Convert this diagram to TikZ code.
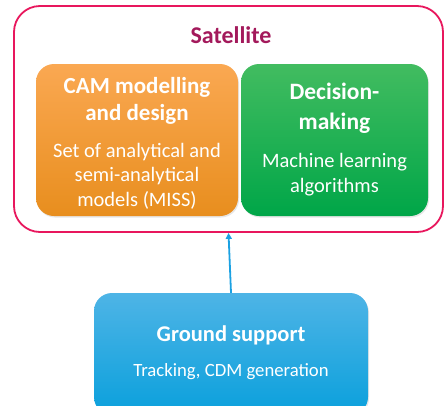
\documentclass[tikz,border=0pt]{standalone}
\usepackage{fontspec}
\setmainfont{Carlito}
\usetikzlibrary{arrows.meta,shadows}
\definecolor{satpink}{HTML}{E8175D}
\definecolor{sattext}{HTML}{A3195B}
\definecolor{gndblue}{HTML}{1BA1E2}
\definecolor{camtop}{HTML}{FAA852}
\definecolor{cambot}{HTML}{E88E1E}
\definecolor{dectop}{HTML}{42BC60}
\definecolor{decbot}{HTML}{00A648}
\definecolor{gndtop}{HTML}{4EB4E6}
\definecolor{gndbot}{HTML}{0AA0DC}
\tikzset{
  block/.style={rounded corners=18pt, inner sep=0pt,
    drop shadow={opacity=0.2, shadow xshift=1pt, shadow yshift=-1.5pt}},
  headtxt/.style={text=white, align=center, inner sep=0pt, font=\bfseries\fontsize{23}{27}\selectfont},
  bodytxt/.style={text=white, align=center, inner sep=0pt, font=\fontsize{20.5}{24.5}\selectfont}
}
\begin{document}
\begin{tikzpicture}[x=1pt, y=-1pt]
    \useasboundingbox (0,0) rectangle (444,405);
    \clip (0,0) rectangle (444,405);

    % Satellite
    \node[draw=satpink, line width=1.8pt, rounded corners=26pt,
          minimum width=429pt, minimum height=226pt] (sat) at (228.5,119) {};
    \node[text=sattext, font=\bfseries\fontsize{24}{28}\selectfont] (sattitle) at (231,35) {Satellite};

    % Modules
    \node[block, top color=camtop, bottom color=cambot,
          minimum width=202pt, minimum height=152pt] (cam) at (137,140) {};
    \node[headtxt] (camhead) at (137,101) {CAM modelling\\and design};
    \node[bodytxt] (cambody) at (137,176) {Set of analytical and\\semi-analytical\\models (MISS)};

    \node[block, top color=dectop, bottom color=decbot,
          minimum width=187pt, minimum height=152pt] (dec) at (334.5,140) {};
    \node[headtxt, font=\bfseries\fontsize{23.5}{30}\selectfont] (dechead) at (334.5,108) {Decision-\\making};
    \node[bodytxt] (decbody) at (334.5,174.5) {Machine learning\\algorithms};

    % Ground support
    \node[block, top color=gndtop, bottom color=gndbot,
          minimum width=274pt, minimum height=122pt] (gnd) at (231,354) {};
    \node[headtxt, font=\bfseries\fontsize{22.5}{26}\selectfont] (gndhead) at (231,335) {Ground support};
    \node[bodytxt, font=\fontsize{18.7}{22}\selectfont] (gndbody) at (231,372) {Tracking, CDM generation};

    % Arrow
    \draw[-{Triangle[length=6pt,width=6pt]}, gndblue, line width=1.8pt] (gnd.north) -- (sat.south);
\end{tikzpicture}
\end{document}
